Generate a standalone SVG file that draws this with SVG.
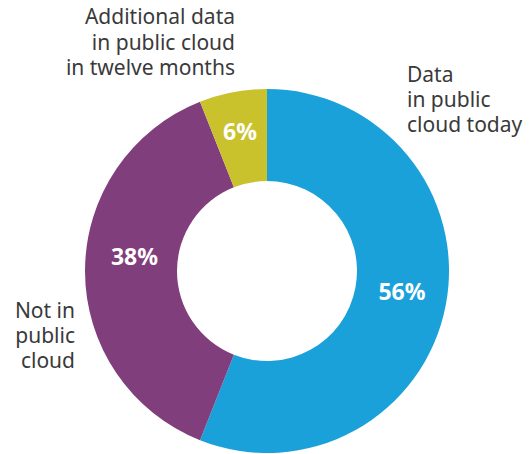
<svg xmlns="http://www.w3.org/2000/svg" width="531" height="454" viewBox="0 0 531 454">
<style>
.lbl{font-family:"Noto Sans","Liberation Sans",sans-serif;font-size:21px;fill:#3a3a3a}
.pct{font-family:"Noto Sans","Liberation Sans",sans-serif;font-size:23px;font-weight:bold;fill:#ffffff;text-anchor:middle}
</style>
<rect width="531" height="454" fill="#ffffff"/>
<g id="slice-today">
<path d="M267,89 A182,182 0 1 1 200.01,440.22 L233.87,354.68 A90,90 0 1 0 267,181 Z" fill="#1BA1DA"/>
<text class="pct" x="402" y="299.5">56%</text>
</g>
<g id="slice-not">
<path d="M200.01,440.22 A182,182 0 0 1 200.01,101.78 L233.87,187.32 A90,90 0 0 0 233.87,354.68 Z" fill="#803E7C"/>
<text class="pct" x="134.5" y="265">38%</text>
</g>
<g id="slice-additional">
<path d="M200.01,101.78 A182,182 0 0 1 267,89 L267,181 A90,90 0 0 0 233.87,187.32 Z" fill="#C9C22D"/>
<text class="pct" x="240" y="139.5">6%</text>
</g>
<g id="label-additional">
<text class="lbl" x="235" y="24" text-anchor="end">Additional data</text>
<text class="lbl" x="235" y="49.5" text-anchor="end">in public cloud</text>
<text class="lbl" x="235" y="75" text-anchor="end">in twelve months</text>
</g>
<g id="label-today">
<text class="lbl" x="407" y="82">Data</text>
<text class="lbl" x="407" y="107">in public</text>
<text class="lbl" x="407" y="132">cloud today</text>
</g>
<g id="label-not">
<text class="lbl" x="75" y="318" text-anchor="end">Not in</text>
<text class="lbl" x="75" y="343" text-anchor="end">public</text>
<text class="lbl" x="75" y="368" text-anchor="end">cloud</text>
</g>
<g id="connectors"/>
</svg>
